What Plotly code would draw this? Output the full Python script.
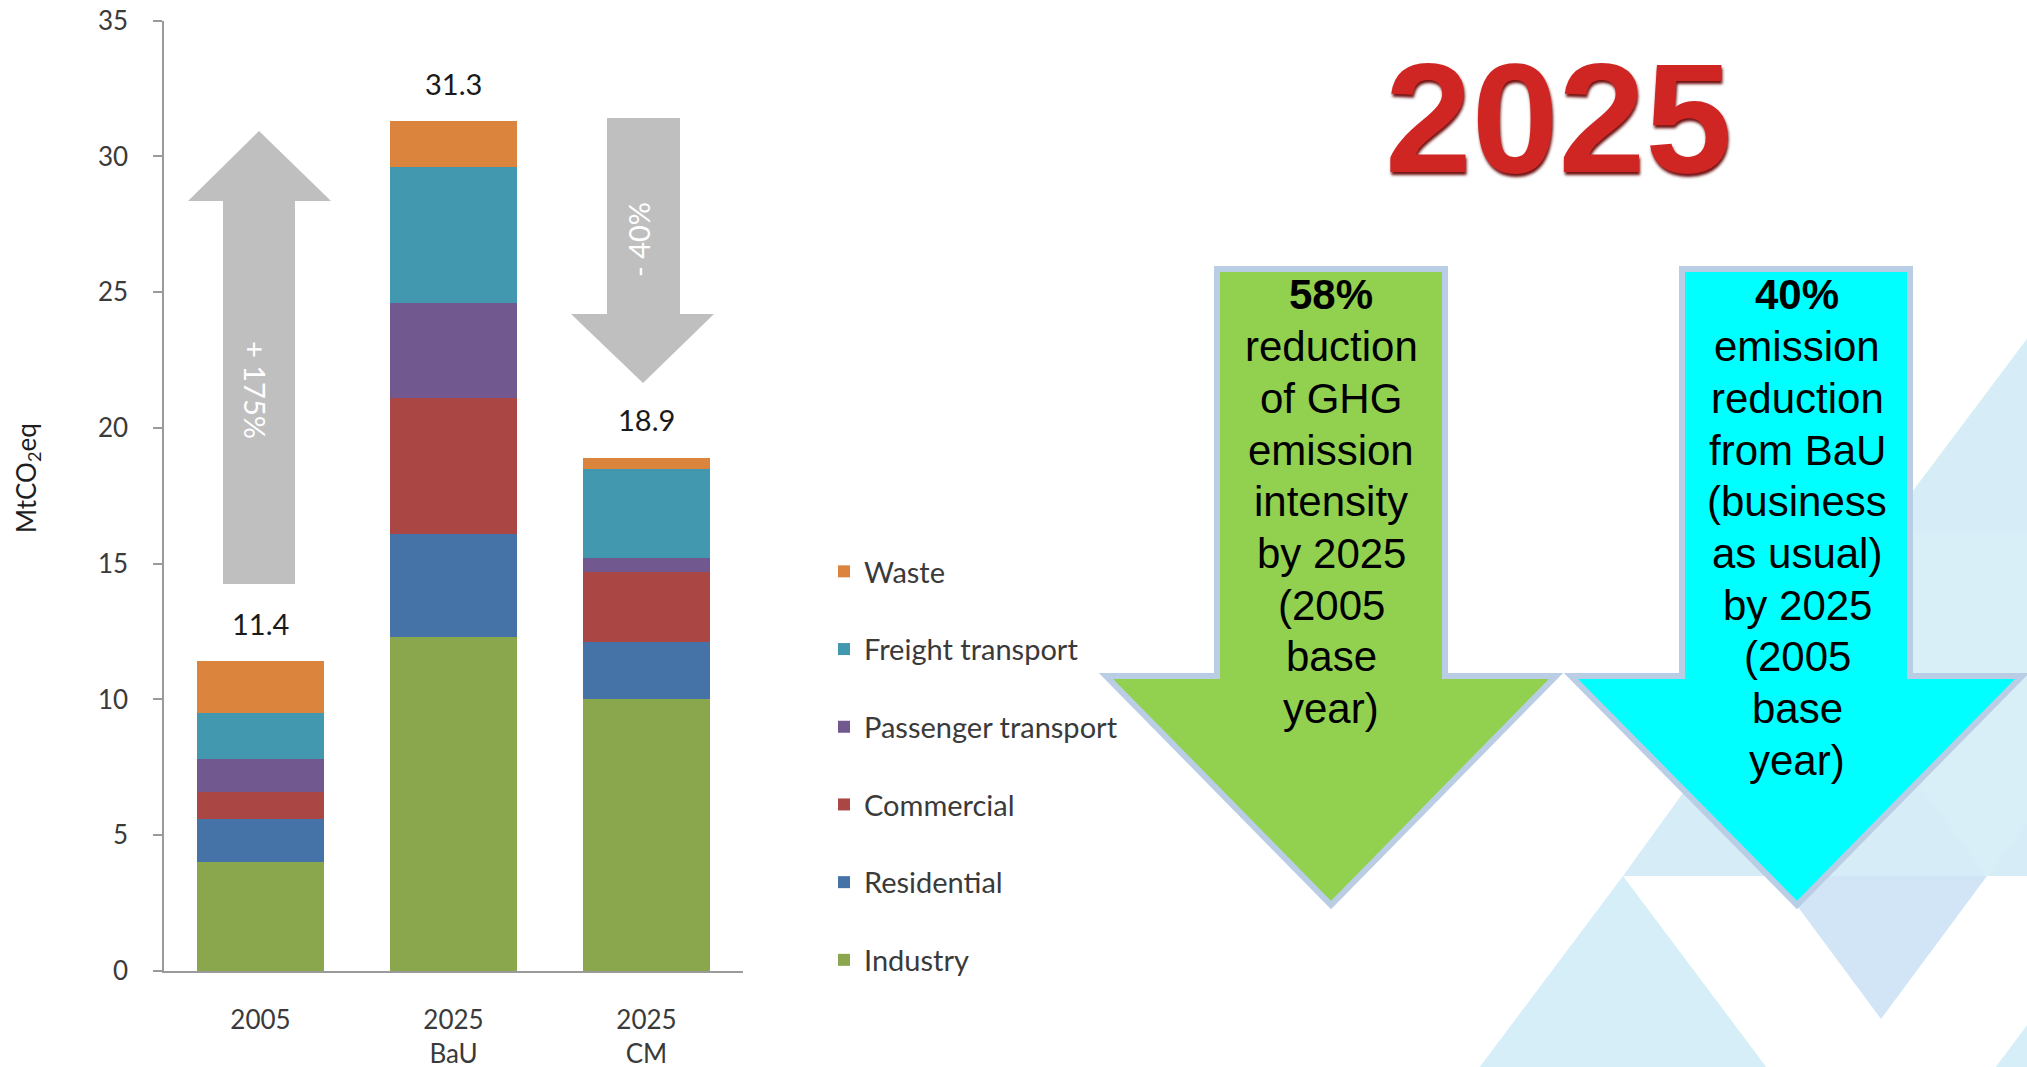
import plotly.graph_objects as go

# ---------------- data ----------------
categories = ["2005", "2025<br>BaU", "2025<br>CM"]
industry = [4.0, 12.3, 10.0]
residential = [1.6, 3.8, 2.1]
commercial = [1.0, 5.0, 2.6]
passenger = [1.2, 3.5, 0.5]
freight = [1.7, 5.0, 3.3]
waste = [1.9, 1.7, 0.4]
totals = [11.4, 31.3, 18.9]
y_ticks = [0, 5, 10, 15, 20, 25, 30, 35]

series_names = ["Industry", "Residential", "Commercial", "Passenger transport",
                "Freight transport", "Waste"]
series_values = [industry, residential, commercial, passenger, freight, waste]
series_colors = ["#8BA74E", "#4572A7", "#AA4643", "#71588F", "#4198AF", "#DB843D"]

arrow_up_label = "+ 175%"
arrow_down_label = "- 40%"
big_title = "2025"
green_lines = ["<b>58%</b>", "reduction", "of GHG", "emission", "intensity",
               "by 2025", "(2005", "base", "year)"]
cyan_lines = ["<b>40%</b>", "emission", "reduction", "from BaU", "(business",
              "as usual)", "by 2025", "(2005", "base", "year)"]

# ---------------- helpers ----------------
W, H = 2027, 1067


def px(x):
    return x / W


def py(y):
    return 1 - y / H


def poly(points):
    return "M " + " L ".join(f"{px(x):.5f},{py(y):.5f}" for x, y in points) + " Z"


fig = go.Figure()
n = len(series_names)
for i, (name, vals, col) in enumerate(zip(series_names, series_values, series_colors)):
    fig.add_trace(go.Bar(
        x=categories, y=vals, name=name, marker=dict(color=col, line=dict(width=0)),
        legendgroup=name, legendrank=n - i,
    ))

LBL = "Lato, 'Open Sans', sans-serif"
ARI = "'Liberation Sans', Arial, sans-serif"

shapes = []
# background light-blue triangles
bg_tris = [
    ([(1882, 532), (2140, 188), (2398, 532)], "#D6EDF8"),
    ([(1623, 876), (1871, 532), (2119, 876)], "#D6EDF8"),
    ([(1729, 532), (2245, 532), (1987, 876)], "#D9EFF8"),
    ([(1775, 876), (1987, 876), (1881, 1019)], "#D1E5F6"),
    ([(1365, 1220), (1623, 876), (1881, 1220)], "#D5EEF8"),
    ([(1881, 1220), (2139, 876), (2397, 1220)], "#D5EEF8"),
]
for pts, col in bg_tris:
    shapes.append(dict(type="path", xref="paper", yref="paper", path=poly(pts),
                       fillcolor=col, line=dict(width=0), layer="below"))

# gray arrows in the chart
up_arrow = [(223, 584), (295, 584), (295, 201), (331, 201), (259, 131),
            (188, 201), (223, 201)]
down_arrow = [(607, 118), (680, 118), (680, 314), (714, 314), (643, 383),
              (571, 314), (607, 314)]
for pts in (up_arrow, down_arrow):
    shapes.append(dict(type="path", xref="paper", yref="paper", path=poly(pts),
                       fillcolor="#BFBFBF", line=dict(width=0), layer="above"))

# big green and cyan arrows
green_arrow = [(1217, 269), (1445, 269), (1445, 676), (1556, 676), (1331, 905),
               (1106, 676), (1217, 676)]
cyan_arrow = [(1682, 269), (1910, 269), (1910, 676), (2022, 676), (1797, 905),
              (1571, 676), (1682, 676)]
shapes.append(dict(type="path", xref="paper", yref="paper", path=poly(green_arrow),
                   fillcolor="#92D050", line=dict(width=6, color="#B9CDE5"), layer="above"))
shapes.append(dict(type="path", xref="paper", yref="paper", path=poly(cyan_arrow),
                   fillcolor="#00FFFF", line=dict(width=6, color="#B9CDE5"), layer="above"))

annotations = []
# totals above bars
for i, t in enumerate(totals):
    annotations.append(dict(x=i, y=t, xref="x", yref="y", text=f"{t:.1f}",
                            showarrow=False, xanchor="center", yanchor="middle", yshift=38,
                            font=dict(family=LBL, size=29, color="#1A1A1A")))
# arrow labels
annotations.append(dict(x=px(256), y=py(390), xref="paper", yref="paper",
                        text=arrow_up_label, textangle=90, showarrow=False,
                        xanchor="center", yanchor="middle",
                        font=dict(family=LBL, size=29, color="white")))
annotations.append(dict(x=px(638), y=py(240), xref="paper", yref="paper",
                        text=arrow_down_label, textangle=-90, showarrow=False,
                        xanchor="center", yanchor="middle",
                        font=dict(family=LBL, size=29, color="white")))
# y axis title
annotations.append(dict(x=px(27), y=py(478), xref="paper", yref="paper",
                        text="MtCO<sub>2</sub>eq", textangle=-90, showarrow=False,
                        xanchor="center", yanchor="middle",
                        font=dict(family=LBL, size=26, color="#1E1E1E")))
# big title
annotations.append(dict(x=px(1558), y=py(118), xref="paper", yref="paper",
                        text=f"<b>{big_title}</b>", showarrow=False,
                        xanchor="center", yanchor="middle",
                        font=dict(family=ARI, size=156, color="#CF2624",
                                  shadow="1px 3px 3px #6E0E0E")))
# arrow texts
for i, line in enumerate(green_lines):
    annotations.append(dict(x=px(1331), y=py(295 + i * 51.7), xref="paper", yref="paper",
                            text=line, showarrow=False, xanchor="center", yanchor="middle",
                            font=dict(family=ARI, size=42, color="black")))
for i, line in enumerate(cyan_lines):
    annotations.append(dict(x=px(1797), y=py(295 + i * 51.7), xref="paper", yref="paper",
                            text=line, showarrow=False, xanchor="center", yanchor="middle",
                            font=dict(family=ARI, size=42, color="black")))

fig.update_layout(
    width=W, height=H,
    margin=dict(l=0, r=0, t=0, b=0, pad=0, autoexpand=False),
    paper_bgcolor="white", plot_bgcolor="rgba(0,0,0,0)",
    barmode="stack", bargap=0.345,
    showlegend=True,
    legend=dict(x=px(824), xanchor="left", y=py(546), yanchor="top",
                traceorder="grouped", tracegroupgap=37,
                font=dict(family=LBL, size=29, color="#3A3A3A"),
                bgcolor="rgba(0,0,0,0)"),
    xaxis=dict(domain=[px(164), px(743)], range=[-0.5, 2.5], type="category",
               showgrid=False, automargin=False,
               showline=True, linecolor="#9A9A9A", linewidth=1.5, ticks="",
               tickfont=dict(family=LBL, size=26, color="#3A3A3A"),
               ticklabelstandoff=25, zeroline=False),
    yaxis=dict(domain=[py(971), py(20.7)], range=[0, 35], tickvals=y_ticks,
               showgrid=False, showline=True, linecolor="#9A9A9A", linewidth=1.5,
               automargin=False,
               ticks="outside", ticklen=9, tickcolor="#9A9A9A", tickwidth=1.5,
               tickfont=dict(family=LBL, size=26, color="#3A3A3A"),
               ticklabelstandoff=20, zeroline=False),
    shapes=shapes,
    annotations=annotations,
)

fig.write_html("out.html", config={"displayModeBar": False},
               post_script="document.body.style.margin='0';")
